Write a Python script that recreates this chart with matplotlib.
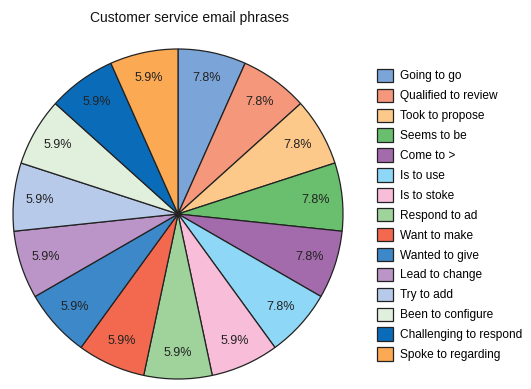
import matplotlib
matplotlib.use('Agg')
import matplotlib.pyplot as plt

labels = ['Going to go', 'Qualified to review', 'Took to propose', 'Seems to be',
          'Come to >', 'Is to use', 'Is to stoke', 'Respond to ad', 'Want to make',
          'Wanted to give', 'Lead to change', 'Try to add', 'Been to configure',
          'Challenging to respond', 'Spoke to regarding']
# the source draws every slice the same size, but prints these percentages
slice_sizes = [1] * 15
pct_labels = ['7.8%', '7.8%', '7.8%', '7.8%', '7.8%', '7.8%', '5.9%', '5.9%',
              '5.9%', '5.9%', '5.9%', '5.9%', '5.9%', '5.9%', '5.9%']
colors = ['#7ba4d8', '#f4977a', '#fdc98b', '#6abf6e', '#a36bab', '#8fd7f7',
          '#f7bdd9', '#9fd39b', '#f2694f', '#3c88c8', '#bc95c8', '#b8caea',
          '#e1efdd', '#0a6cb8', '#fbaa53']

plt.rcParams['font.family'] = ['Liberation Sans', 'DejaVu Sans']

fig = plt.figure(figsize=(5.31, 3.89), dpi=100)
# axes box matches the pie's bounding box (centre ~ (178, 214), r ~ 165 px)
ax = fig.add_axes([13 / 531, 1 - 379 / 389, 330 / 531, 330 / 389])

label_iter = iter(pct_labels)
wedges, texts, autotexts = ax.pie(
    slice_sizes, colors=colors, startangle=90, counterclock=False,
    autopct=lambda p: next(label_iter), pctdistance=0.84,
    wedgeprops=dict(edgecolor='#222222', linewidth=0.9, clip_on=False),
    textprops=dict(color='#222222', fontsize=9))
ax.set_xlim(-1, 1)
ax.set_ylim(-1, 1)
ax.set_aspect('equal')

fig.text(190 / 531, 1 - 18 / 389, 'Customer service email phrases',
         ha='center', va='center', fontsize=10, color='#111111')

leg = fig.legend(wedges, labels, loc='upper left',
                 bbox_to_anchor=(372 / 531, 1 - 64 / 389),
                 frameon=False, fontsize=8.6, handlelength=1.35, handleheight=1.35,
                 handletextpad=0.6, labelspacing=0.52, borderaxespad=0)

fig.savefig('out.png', dpi=100)
